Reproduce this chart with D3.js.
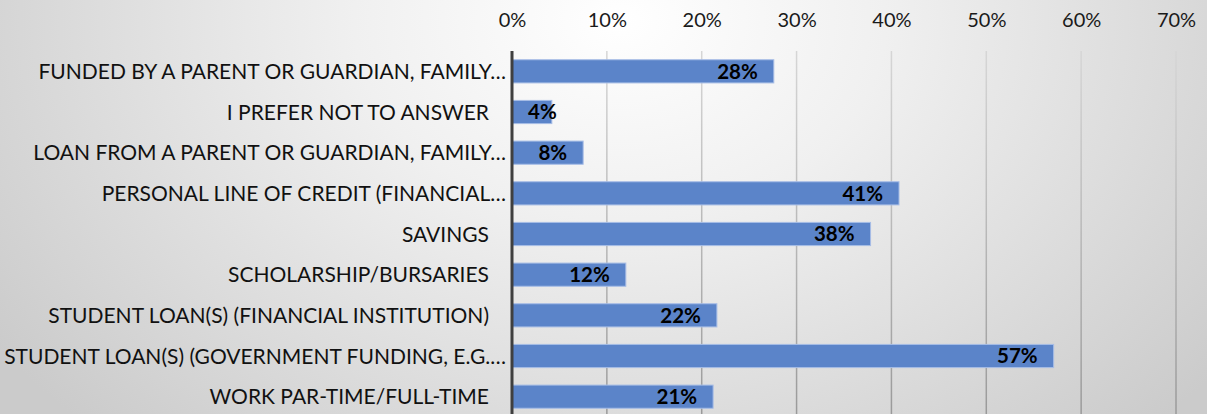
<!DOCTYPE html>
<html>
<head>
<meta charset="utf-8">
<script src="https://cdn.jsdelivr.net/npm/d3@7"></script>
<style>
  html, body { margin: 0; padding: 0; }
  body { width: 1207px; height: 414px; overflow: hidden; }
  svg { display: block; }
</style>
</head>
<body>
<svg id="chart" width="1207" height="414"></svg>
<script>
const categories = [
  "FUNDED BY A PARENT OR GUARDIAN, FAMILY…",
  "I PREFER NOT TO ANSWER",
  "LOAN FROM A PARENT OR GUARDIAN, FAMILY…",
  "PERSONAL LINE OF CREDIT (FINANCIAL…",
  "SAVINGS",
  "SCHOLARSHIP/BURSARIES",
  "STUDENT LOAN(S) (FINANCIAL INSTITUTION)",
  "STUDENT LOAN(S) (GOVERNMENT FUNDING, E.G.…",
  "WORK PAR-TIME/FULL-TIME"
];
const values = [27.6, 4.2, 7.5, 40.8, 37.8, 12.0, 21.6, 57.1, 21.2];
const tickValues = [0, 10, 20, 30, 40, 50, 60, 70];

const svg = d3.select("#chart");
const W = 1207, H = 414;
const margin = { left: 512, right: 31, top: 51, bottom: -3 };

// background radial gradient
const defs = svg.append("defs");
const rg = defs.append("radialGradient").attr("id", "bg")
  .attr("gradientUnits", "userSpaceOnUse")
  .attr("cx", 620).attr("cy", 20).attr("r", 760)
  .attr("gradientTransform", "translate(620,20) scale(1,0.75) translate(-620,-20)");
rg.append("stop").attr("offset", "0").attr("stop-color", "#ffffff");
rg.append("stop").attr("offset", "0.35").attr("stop-color", "#f0f0f0");
rg.append("stop").attr("offset", "1").attr("stop-color", "#cbcbcb");
svg.append("rect").attr("width", W).attr("height", H).attr("fill", "url(#bg)");

const gg = defs.append("linearGradient").attr("id", "grid")
  .attr("gradientUnits", "userSpaceOnUse")
  .attr("x1", 0).attr("y1", 51).attr("x2", 0).attr("y2", 414);
gg.append("stop").attr("offset", "0").attr("stop-color", "#d6d6d6");
gg.append("stop").attr("offset", "1").attr("stop-color", "#9a9a9a");

const x = d3.scaleLinear().domain([0, 70]).range([margin.left, W - margin.right]);
const y = d3.scaleBand().domain(categories)
  .range([margin.top, H - margin.bottom])
  .paddingInner(0.43).paddingOuter(0.215);

// gridlines
svg.append("g").selectAll("line").data(tickValues.filter(d => d > 0)).join("line")
  .attr("x1", d => x(d)).attr("x2", d => x(d))
  .attr("y1", margin.top).attr("y2", H)
  .attr("stroke", "url(#grid)").attr("stroke-width", 1.5);

// top axis labels
const xAxis = d3.axisTop(x).tickValues(tickValues).tickSize(0).tickPadding(0)
  .tickFormat(d => d + "%");
const ax = svg.append("g").attr("transform", "translate(0,27)").call(xAxis);
ax.select(".domain").remove();
ax.selectAll("text").attr("font-family", "Lato, sans-serif").attr("font-size", 20)
  .attr("fill", "#1a1a1a").attr("dy", 0);

// bars
svg.append("g").selectAll("rect").data(values).join("rect")
  .attr("x", x(0))
  .attr("y", (d, i) => y(categories[i]))
  .attr("width", d => x(d) - x(0))
  .attr("height", y.bandwidth())
  .attr("fill", "#5b84c9")
  .attr("stroke", "#a7bde6").attr("stroke-width", 1);

// vertical axis line
svg.append("line").attr("x1", x(0)).attr("x2", x(0))
  .attr("y1", margin.top).attr("y2", H)
  .attr("stroke", "#3f3f3f").attr("stroke-width", 3);

// category labels
const yAxis = d3.axisLeft(y).tickSize(0).tickPadding(0);
const ay = svg.append("g").attr("transform", "translate(0,0)").call(yAxis);
ay.select(".domain").remove();
ay.selectAll(".tick text")
  .attr("x", d => d.endsWith("…") ? 506 : 489)
  .attr("dy", "0.36em")
  .attr("font-family", "Lato, sans-serif").attr("font-size", 21)
  .attr("fill", "#111");

// data labels
const lbl = svg.append("g").selectAll("text").data(values).join("text")
  .attr("y", (d, i) => y(categories[i]) + y.bandwidth() / 2)
  .attr("dy", "0.36em")
  .attr("text-anchor", "end")
  .attr("font-family", "Lato, sans-serif").attr("font-weight", "bold").attr("font-size", 20.5)
  .attr("fill", "#000")
  .text(d => Math.round(d) + "%");
lbl.attr("x", function (d) {
  const w = this.getComputedTextLength();
  return Math.max(x(d) - 16, x(0) + 16 + w);
});
</script>
</body>
</html>
